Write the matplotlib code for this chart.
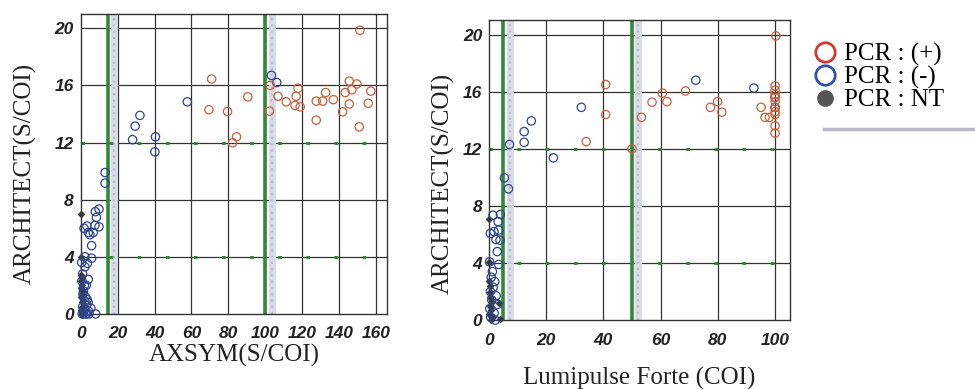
import matplotlib
matplotlib.use("Agg")
import matplotlib.pyplot as plt
from matplotlib.lines import Line2D

# ---------------- data ----------------
# Left panel: AXSYM (S/COI) vs ARCHITECT (S/COI)
pos_x_L = [151.4, 71, 69.5, 79.6, 90.6, 82.3, 84.5, 102.7, 102.3, 107, 111.4, 117.8, 116.8,
           116.2, 119, 127.7, 127.7, 131.2, 132.8, 137, 142, 143.4, 145.6, 145.6, 147, 149.7,
           151, 155.9, 157.3]
pos_y_L = [19.86, 16.45, 14.3, 14.17, 15.2, 11.98, 12.4, 16.0, 14.2, 15.24, 14.85, 15.8, 15.24,
           14.6, 14.5, 14.9, 13.57, 14.9, 15.5, 15.0, 14.15, 15.5, 16.3, 14.7, 15.7, 16.1,
           13.1, 14.75, 15.6]
neg_x_L = [103.4, 106.3, 57.8, 32.1, 29.5, 28.1, 40.5, 40.2, 13.2, 13.2, 9.9, 7.9, 8.5, 9.9,
           7.7, 3.4, 1.8, 4.1, 6.8, 5.0, 5.9, 2.3, 5.9, 3.6, 2.3, 4.1, 3.0, 1.5, 2.5, 4.0, 1.0,
           2.0, 3.2, 0.8, 1.5, 2.8, 4.5, 3.0, 5.5, 8.1, 1.0, 0.5, 2.0, 3.5, 1.2, 2.2, 4.2, 0.6]
neg_y_L = [16.7, 16.2, 14.85, 13.9, 13.15, 12.2, 12.4, 11.35, 9.9, 9.16, 7.34, 7.16, 6.76, 6.1,
           6.2, 6.15, 6.0, 5.7, 5.7, 5.55, 4.78, 4.0, 3.9, 3.54, 3.3, 2.42, 2.0, 1.6, 1.2, 0.8,
           0.5, 0.3, 0.0, 0.0, 0.0, 0.0, 0.0, 0.6, 0.4, 0.0, 2.8, 3.6, 2.0, 1.0, 1.4, 0.9, 0.2, 2.3]
nt_x_L = [0.2, 0.3, 0.1, 0.5, 0.4, 0.8, 0.2, 1.0, 0.6, 0.3, 1.2, 0.5, 0.9, 0.2, 1.5, 0.7]
nt_y_L = [7.0, 4.0, 2.7, 2.5, 2.3, 2.0, 1.8, 1.6, 1.4, 1.2, 1.0, 0.8, 0.5, 0.3, 0.15, 0.0]

# Right panel: Lumipulse Forte (COI) vs ARCHITECT (S/COI)
pos_x_R = [100.3, 40.8, 40.8, 34, 50, 53.3, 57, 60.6, 62.2, 68.7, 77.4, 79.9, 81.4, 95.1,
           96.5, 98, 100, 100, 100, 100, 100, 100, 100, 100, 100, 100]
pos_y_R = [19.9, 16.5, 14.4, 12.5, 12.0, 14.2, 15.26, 15.9, 15.3, 16.05, 14.9, 15.3, 14.56,
           14.9, 14.2, 14.2, 16.4, 16.1, 15.8, 15.6, 15.3, 14.9, 14.6, 14.4, 13.6, 13.1]
neg_x_R = [72.3, 92.6, 100, 100, 32.3, 14.8, 12.3, 12.3, 7.2, 22.5, 5.4, 6.8, 1.4, 4.0, 3.2,
           0.5, 1.75, 3.4, 2.45, 3.85, 2.9, 0.2, 3.4, 1.2, 0.8, 2.0, 1.5, 0.5, 2.5, 1.0, 3.0,
           0.3, 1.8, 0.6, 2.2]
neg_y_R = [16.8, 16.25, 14.9, 15.6, 14.9, 13.95, 13.2, 12.45, 12.3, 11.36, 9.96, 9.2, 7.35,
           7.4, 6.9, 6.07, 6.2, 6.3, 5.65, 5.6, 4.8, 4.08, 3.9, 3.4, 3.0, 2.7, 2.3, 2.0, 1.7,
           1.4, 1.1, 0.8, 0.5, 0.2, 0.0]
nt_x_R = [0.0, 0.0, 0.0, 3.5, 3.7, 0.3, 0.5, 0.2, 1.0, 0.4, 0.6, 0.1, 1.5, 0.8]
nt_y_R = [7.1, 4.1, 2.75, 1.17, 0.1, 2.4, 2.0, 1.6, 1.3, 1.0, 0.7, 0.4, 0.2, 0.0]

# cut-off lines
cut_L = [15, 100]
band_L = [17.8, 103.6]
cut_R = [5, 50]
band_R = [7.2, 52.2]
h_cut = [4, 12]

xticks_L = [0, 20, 40, 60, 80, 100, 120, 140, 160]
xticks_R = [0, 20, 40, 60, 80, 100]
yticks = [0, 4, 8, 12, 16, 20]

xlabel_L = "AXSYM(S/COI)"
xlabel_R = "Lumipulse Forte (COI)"
ylabel = "ARCHITECT(S/COI)"
legend_labels = ["PCR : (+)", "PCR : (-)", "PCR : NT"]

# ---------------- style ----------------
RED = "#C8603C"
BLUE = "#2E4590"
GREEN = "#2E8A35"
BAND = "#D9DBE8"
SERIF = ["Liberation Serif", "DejaVu Serif"]
TICKFAM = ["Liberation Sans", "DejaVu Sans"]

fig = plt.figure(figsize=(9.75, 3.89), dpi=100)
ax_L = fig.add_axes([0.0828, 0.193, 0.314, 0.771])
ax_R = fig.add_axes([0.5015, 0.177, 0.309, 0.771])


def draw(ax, px, py, nx, ny, tx, ty, cuts, bands, xlim, xticks, xlabel, xpad,
         ylab_x, ylab_y):
    ax.set_xlim(*xlim)
    ax.set_ylim(0, 21)
    for y in yticks[1:]:
        ax.axhline(y, color="#333333", lw=0.9, zorder=1)
    for x in xticks[1:]:
        ax.axvline(x, color="#333333", lw=0.9, zorder=1)
    for y in h_cut:
        ax.axhline(y, color=GREEN, lw=2.2, linestyle=(0, (1.2, 8)), zorder=2)
    for b in bands:
        ax.axvline(b, color=BAND, lw=5, zorder=1.5)
        ax.axvline(b, color="#B8BBD0", lw=1.5, linestyle=(0, (1, 2)), zorder=1.6)
    for c in cuts:
        ax.axvline(c, color=GREEN, lw=2.6, zorder=2)
    ax.scatter(tx, ty, s=9, marker="D", color="#3A3A3A", zorder=3, clip_on=False)
    ax.scatter(nx, ny, s=36, facecolors="none", edgecolors=BLUE, linewidths=0.9,
               zorder=4, clip_on=False)
    ax.scatter(px, py, s=36, facecolors="none", edgecolors=RED, linewidths=0.9,
               zorder=4, clip_on=False)
    ax.set_xticks(xticks)
    ax.set_yticks(yticks)
    ax.tick_params(axis="x", length=0, pad=9)
    ax.tick_params(axis="y", length=0, pad=5)
    for lab in ax.get_xticklabels() + ax.get_yticklabels():
        lab.set_fontfamily(TICKFAM)
        lab.set_fontstyle("italic")
        lab.set_fontweight("bold")
        lab.set_fontsize(12.5)
        lab.set_color("#222222")
    for sp in ax.spines.values():
        sp.set_color("#333333")
        sp.set_linewidth(1.0)
    ax.set_xlabel(xlabel, family=SERIF, fontsize=18, color="#222222", labelpad=xpad)
    ax.set_ylabel(ylabel, family=SERIF, fontsize=18, color="#222222")
    ax.yaxis.set_label_coords(ylab_x, ylab_y)


draw(ax_L, pos_x_L, pos_y_L, neg_x_L, neg_y_L, nt_x_L, nt_y_L, cut_L, band_L,
     (0, 166), xticks_L, xlabel_L, 2, -0.143, 0.47)
draw(ax_R, pos_x_R, pos_y_R, neg_x_R, neg_y_R, nt_x_R, nt_y_R, cut_R, band_R,
     (0, 105.3), xticks_R, xlabel_R, 14, -0.114, 0.455)

# legend
handles = [
    Line2D([], [], marker="o", linestyle="none", markersize=14, markerfacecolor="none",
           markeredgecolor="#D23A2E", markeredgewidth=2),
    Line2D([], [], marker="o", linestyle="none", markersize=14, markerfacecolor="none",
           markeredgecolor="#2F52B0", markeredgewidth=2),
    Line2D([], [], marker="o", linestyle="none", markersize=11, markerfacecolor="#555555",
           markeredgecolor="#555555"),
]
leg = fig.legend(handles, legend_labels, loc="upper left", bbox_to_anchor=(0.835, 0.89),
                 frameon=False, prop={"family": SERIF, "size": 18}, handlelength=0.9,
                 handletextpad=0.3, labelspacing=0.0, borderpad=0, borderaxespad=0)
fig.add_artist(Line2D([0.845, 1.0], [1 - 129 / 389, 1 - 129 / 389],
                      transform=fig.transFigure, color="#B8B8C8", lw=2.5))

fig.savefig("out.png", dpi=100)
